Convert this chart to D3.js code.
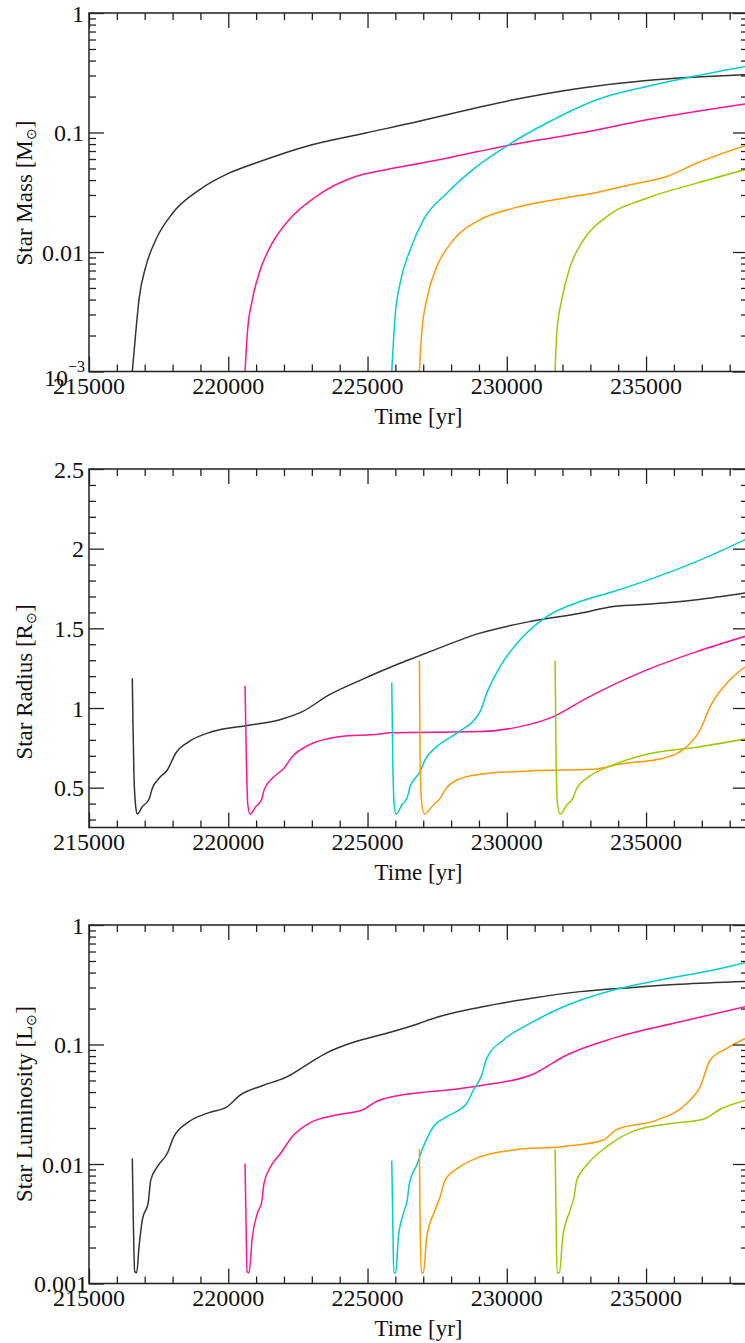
<!DOCTYPE html>
<html>
<head>
<meta charset="utf-8">
<script src="https://cdn.jsdelivr.net/npm/d3@7"></script>
<style>
  body { margin: 0; background: #fff; }
  svg { display: block; font-family: "Liberation Serif", "Times New Roman", serif; }
  .axis path { display: none; }
  .axis line { stroke: #222; stroke-width: 1.3; }
</style>
</head>
<body>
<div id="chart"></div>
<script>
// Tick labels
const timeTicks = [215000, 220000, 225000, 230000, 235000];
const massTicks = [1, 0.1, 0.01, 0.001];
const radiusTicks = [0.5, 1, 1.5, 2, 2.5];
const lumTicks = [1, 0.1, 0.01, 0.001];
const lumLabels = ['1', '0.1', '0.01', '0.001'];

const starColors = ['#333333', '#ff1493', '#00ced1', '#ff9900', '#99cc00'];

// Star mass [Msun] vs time [yr]
const massBlack = [[216555,0.001],[216677,0.0021],[216795,0.0040],[217036,0.0075],[217395,0.0126],[217991,0.021],[218950,0.033],[220027,0.0457],[220986,0.0555],[222782,0.0764],[224936,0.099],[226850,0.124],[227845,0.141],[230237,0.188],[232632,0.235],[235027,0.273],[236822,0.291],[238660,0.305]];
const massMagenta = [[220602,0.001],[220685,0.0021],[220865,0.004],[221105,0.0066],[221583,0.0119],[222182,0.0186],[223141,0.029],[224577,0.0428],[225450,0.0478],[226850,0.055],[227845,0.061],[230118,0.0788],[232632,0.0989],[235027,0.128],[238660,0.175]];
const massCyan = [[225870,0.001],[225990,0.0029],[226170,0.0055],[226528,0.0104],[227007,0.0186],[227845,0.031],[228923,0.052],[230058,0.0788],[231436,0.12],[233232,0.188],[235027,0.243],[236822,0.298],[238660,0.36]];
const massOrange = [[226862,0.001],[226946,0.0021],[227126,0.004],[227485,0.0075],[228083,0.0126],[229041,0.0186],[230237,0.0233],[232033,0.0282],[233232,0.0315],[234427,0.0365],[235744,0.0428],[236822,0.0555],[238660,0.079]];
const massGreen = [[231734,0.001],[231794,0.0021],[231974,0.004],[232273,0.0075],[232752,0.0126],[233591,0.0198],[235027,0.0282],[236822,0.0377],[238660,0.0497]];

// Star radius [Rsun]
const radiusBlack = [[216555,1.187],[216580,0.883],[216616,0.569],[216677,0.381],[216735,0.335],[216914,0.381],[217155,0.427],[217273,0.496],[217514,0.559],[217812,0.611],[218113,0.716],[218591,0.789],[219428,0.852],[220627,0.889],[221823,0.925],[222660,0.977],[223618,1.082],[224815,1.18],[226014,1.27],[226850,1.327],[227245,1.354],[229041,1.47],[230836,1.543],[232632,1.595],[233829,1.637],[235265,1.654],[236822,1.679],[238660,1.724]];
const radiusMagenta = [[220602,1.139],[220650,0.674],[220698,0.402],[220781,0.333],[220986,0.381],[221201,0.427],[221284,0.486],[221583,0.559],[222003,0.622],[222301,0.695],[222900,0.768],[223977,0.82],[225450,0.837],[225773,0.845],[229041,0.852],[230477,0.883],[231672,0.946],[232871,1.062],[235027,1.239],[236822,1.354],[238660,1.455]];
const radiusCyan = [[225870,1.16],[225906,0.674],[225954,0.402],[226025,0.333],[226230,0.391],[226430,0.44],[226528,0.506],[226887,0.6],[227066,0.674],[227485,0.758],[228203,0.842],[229041,0.977],[229280,1.093],[229759,1.26],[230477,1.428],[231436,1.574],[232632,1.668],[233829,1.731],[235265,1.815],[236822,1.92],[238660,2.065]];
const radiusOrange = [[226862,1.296],[226887,0.674],[226946,0.402],[227039,0.335],[227365,0.391],[227604,0.433],[227784,0.486],[228203,0.548],[229041,0.584],[230836,0.605],[233112,0.616],[234069,0.649],[235625,0.685],[236463,0.758],[236942,0.862],[237301,1.009],[237899,1.156],[238660,1.27]];
const radiusGreen = [[231734,1.296],[231770,0.674],[231818,0.402],[231914,0.333],[232153,0.391],[232369,0.433],[232512,0.496],[232871,0.559],[233829,0.643],[235027,0.71],[236822,0.754],[238660,0.808]];

// Star luminosity [Lsun]
const lumBlack = [[216555,0.0111],[216591,0.0034],[216640,0.00126],[216712,0.00123],[216795,0.0020],[216914,0.0034],[217129,0.0048],[217215,0.0073],[217454,0.0095],[217812,0.0123],[218052,0.017],[218591,0.0226],[219309,0.0269],[219966,0.0302],[220386,0.0371],[221224,0.0452],[222063,0.0531],[222900,0.0696],[223499,0.0844],[224577,0.106],[225450,0.12],[226850,0.150],[227245,0.162],[229041,0.205],[230836,0.243],[232632,0.277],[234427,0.299],[236223,0.319],[238660,0.337]];
const lumMagenta = [[220602,0.0101],[220637,0.0034],[220673,0.00126],[220745,0.00123],[220865,0.00246],[221045,0.00386],[221201,0.0048],[221284,0.0069],[221523,0.0095],[221882,0.0123],[222301,0.017],[222900,0.0219],[223858,0.0257],[224815,0.0283],[225354,0.0337],[226850,0.0395],[227007,0.0398],[229041,0.0452],[230955,0.0566],[232153,0.0817],[233829,0.113],[236223,0.155],[238660,0.21]];
const lumCyan = [[225870,0.0107],[225906,0.0034],[225942,0.00123],[226014,0.00123],[226109,0.00246],[226289,0.00386],[226430,0.00506],[226504,0.0069],[226767,0.0098],[227007,0.014],[227365,0.0205],[227845,0.0249],[228563,0.0322],[228802,0.0416],[229101,0.0556],[229280,0.0766],[229879,0.109],[230836,0.150],[232033,0.207],[233829,0.286],[235625,0.351],[237420,0.42],[238660,0.49]];
const lumOrange = [[226862,0.0133],[226887,0.0034],[226934,0.00123],[227007,0.00123],[227126,0.00246],[227425,0.0041],[227604,0.0053],[227784,0.0073],[228323,0.0095],[229041,0.0115],[230237,0.0131],[232033,0.014],[233469,0.0159],[233948,0.0195],[235384,0.0233],[236463,0.0322],[236942,0.0443],[237301,0.0741],[237899,0.0929],[238660,0.115]];
const lumGreen = [[231734,0.0133],[231770,0.0034],[231806,0.00123],[231890,0.00123],[232010,0.00246],[232273,0.0041],[232417,0.0053],[232512,0.0073],[232871,0.0098],[233591,0.014],[234667,0.0193],[235983,0.0219],[237061,0.0237],[237660,0.0287],[238660,0.0345]];

function createStarPanels(containerId = 'chart') {
    const W = 745, H = 1343;
    const left = 89, right = 748, panelH = 358.5;

    const svg = d3.select(`#${containerId}`)
        .append('svg')
        .attr('width', W)
        .attr('height', H);

    const x = d3.scaleLinear()
        .domain([215000, 238660])
        .range([left, right]);

    const panels = [
        { top: 13, name: 'Star Mass [M', sub: '\u2299', log: true, domain: [0.001, 1],
          ticks: massTicks, titleY: 193, series: [massBlack, massMagenta, massCyan, massOrange, massGreen] },
        { top: 469, name: 'Star Radius [R', sub: '\u2299', log: false, domain: [0.25, 2.5],
          ticks: radiusTicks, titleY: 682, series: [radiusBlack, radiusMagenta, radiusCyan, radiusOrange, radiusGreen] },
        { top: 925, name: 'Star Luminosity [L', sub: '\u2299', log: true, domain: [0.001, 1],
          ticks: lumTicks, titleY: 1104, series: [lumBlack, lumMagenta, lumCyan, lumOrange, lumGreen] }
    ];

    const xMinor = d3.range(215000, 238661, 1000).filter(v => v % 5000 !== 0);

    panels.forEach((p, pi) => {
        const bottom = p.top + panelH;
        const y = (p.log ? d3.scaleLog() : d3.scaleLinear())
            .domain(p.domain)
            .range([bottom, p.top]);

        let yMinor;
        if (p.log) {
            yMinor = [];
            [0.001, 0.01, 0.1].forEach(dec => {
                for (let m = 2; m <= 9; m++) yMinor.push(dec * m);
            });
        } else {
            yMinor = d3.range(3, 25).map(v => v / 10).filter(v => Math.round(v * 10) % 5 !== 0);
        }

        // Clip path
        svg.append('clipPath')
            .attr('id', `clip${pi}`)
            .append('rect')
            .attr('x', left)
            .attr('y', p.top)
            .attr('width', right - left)
            .attr('height', panelH);

        // Lines
        const line = d3.line()
            .x(d => x(d[0]))
            .y(d => y(d[1]))
            .curve(d3.curveMonotoneX);

        const g = svg.append('g').attr('clip-path', `url(#clip${pi})`);
        p.series.forEach((s, i) => {
            g.append('path')
                .datum(s)
                .attr('fill', 'none')
                .attr('stroke', starColors[i])
                .attr('stroke-width', 1.5)
                .attr('d', line);
        });

        // Ticks (inward on all four sides)
        const addAxis = (axisFn, scale, values, size, tx, ty) => {
            svg.append('g')
                .attr('class', 'axis')
                .attr('transform', `translate(${tx},${ty})`)
                .call(axisFn(scale).tickValues(values).tickSizeInner(-size).tickSizeOuter(0).tickFormat(''));
        };
        addAxis(d3.axisBottom, x, timeTicks, 15, 0, bottom);
        addAxis(d3.axisBottom, x, xMinor, 7, 0, bottom);
        addAxis(d3.axisTop, x, timeTicks, 15, 0, p.top);
        addAxis(d3.axisTop, x, xMinor, 7, 0, p.top);
        addAxis(d3.axisLeft, y, p.ticks, 15, left, 0);
        addAxis(d3.axisLeft, y, yMinor, 7, left, 0);
        addAxis(d3.axisRight, y, p.ticks, 15, right, 0);
        addAxis(d3.axisRight, y, yMinor, 7, right, 0);

        // Frame
        svg.append('rect')
            .attr('x', left)
            .attr('y', p.top)
            .attr('width', right - left)
            .attr('height', panelH)
            .attr('fill', 'none')
            .attr('stroke', '#222')
            .attr('stroke-width', 1.5);

        // X tick labels
        svg.append('g')
            .selectAll('text')
            .data(timeTicks)
            .join('text')
            .attr('x', d => x(d))
            .attr('y', bottom + 22)
            .attr('text-anchor', 'middle')
            .style('font-size', '24px')
            .style('fill', '#111')
            .text(d => d);

        // X title
        svg.append('text')
            .attr('x', (left + right) / 2)
            .attr('y', bottom + 52)
            .attr('text-anchor', 'middle')
            .style('font-size', '23px')
            .style('fill', '#111')
            .text('Time [yr]');

        // Y tick labels
        const yl = svg.append('g').style('font-size', '24px').style('fill', '#111');
        p.ticks.forEach((t, i) => {
            if (pi === 0 && t === 0.001) {
                const tx = yl.append('text')
                    .attr('x', 85)
                    .attr('y', y(t) + 14)
                    .attr('text-anchor', 'end');
                tx.append('tspan').text('10');
                tx.append('tspan')
                    .attr('dy', -14)
                    .style('font-size', '16px')
                    .text('\u22123');
            } else {
                const label = pi === 2 ? lumLabels[i] : String(t);
                yl.append('text')
                    .attr('x', (pi === 2 && t === 0.001) ? 88 : 84)
                    .attr('y', y(t) + 8.5)
                    .attr('text-anchor', 'end')
                    .text(label);
            }
        });

        // Y title
        const yt = svg.append('text')
            .attr('transform', `translate(32,${p.titleY}) rotate(-90)`)
            .attr('text-anchor', 'middle')
            .style('font-size', '23px')
            .style('fill', '#111');
        yt.append('tspan').text(p.name);
        yt.append('tspan').attr('dy', 4).style('font-size', '14px').text(p.sub);
        yt.append('tspan').attr('dy', -4).text(']');
    });
}

createStarPanels('chart');
</script>
</body>
</html>
